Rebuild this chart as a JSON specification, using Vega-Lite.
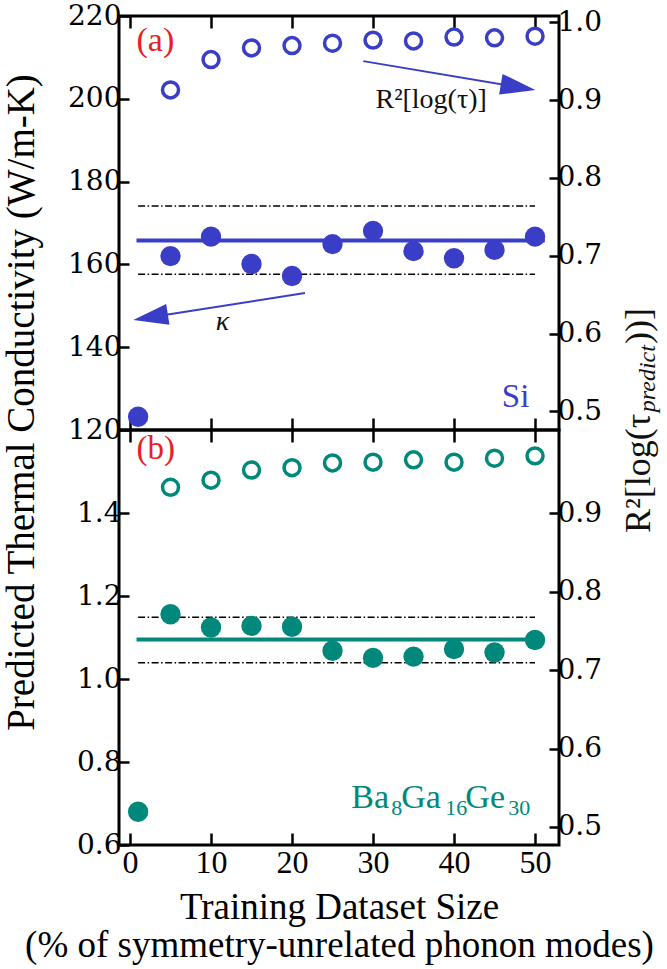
{
  "$schema": "https://vega.github.io/schema/vega-lite/v6.json",
  "padding": {"left": 0, "top": 0, "right": 0, "bottom": 0},
  "spacing": 0,
  "bounds": "flush",
  "datasets": {
    "si_k": [{"pct":1,"k":123.2},{"pct":5,"k":162.0},{"pct":10,"k":166.7},{"pct":15,"k":160.1},{"pct":20,"k":157.2},{"pct":25,"k":164.9},{"pct":30,"k":168.1},{"pct":35,"k":163.2},{"pct":40,"k":161.5},{"pct":45,"k":163.5},{"pct":50,"k":166.7}],
    "si_r": [{"pct":5,"r":0.913},{"pct":10,"r":0.952},{"pct":15,"r":0.967},{"pct":20,"r":0.970},{"pct":25,"r":0.973},{"pct":30,"r":0.977},{"pct":35,"r":0.976},{"pct":40,"r":0.981},{"pct":45,"r":0.980},{"pct":50,"r":0.982}],
    "si_mean": [{"pct":0.8,"k":165.8},{"pct":51.2,"k":165.8}],
    "si_band": [{"pct":1,"k":174.1,"band":"upper"},{"pct":50,"k":174.1,"band":"upper"},{"pct":1,"k":157.6,"band":"lower"},{"pct":50,"k":157.6,"band":"lower"}],
    "ba_k": [{"pct":1,"k":0.68},{"pct":5,"k":1.156},{"pct":10,"k":1.124},{"pct":15,"k":1.128},{"pct":20,"k":1.126},{"pct":25,"k":1.068},{"pct":30,"k":1.051},{"pct":35,"k":1.054},{"pct":40,"k":1.072},{"pct":45,"k":1.064},{"pct":50,"k":1.094}],
    "ba_r": [{"pct":5,"r":0.933},{"pct":10,"r":0.942},{"pct":15,"r":0.955},{"pct":20,"r":0.958},{"pct":25,"r":0.964},{"pct":30,"r":0.965},{"pct":35,"r":0.968},{"pct":40,"r":0.965},{"pct":45,"r":0.970},{"pct":50,"r":0.973}],
    "ba_mean": [{"pct":0.8,"k":1.095},{"pct":51.2,"k":1.095}],
    "ba_band": [{"pct":1,"k":1.149,"band":"upper"},{"pct":50,"k":1.149,"band":"upper"},{"pct":1,"k":1.039,"band":"lower"},{"pct":50,"k":1.039,"band":"lower"}],
    "one": [{}]
  },
  "vconcat": [
    {
      "width": 440,
      "height": 414,
      "layer": [
        {
          "layer": [
            {
              "data": {"name": "si_band"},
              "mark": {"type": "line", "color": "black", "strokeWidth": 1.5, "strokeDash": [7, 2.5, 1.5, 2.5]},
              "encoding": {
                "x": {"field": "pct", "type": "quantitative", "scale": {"domain": [-1.36, 52.96], "nice": false, "zero": false},
                      "axis": {"orient": "bottom", "labels": false, "title": null, "values": [0,10,20,30,40,50], "tickSize": -12}},
                "y": {"field": "k", "type": "quantitative", "scale": {"domain": [120, 220], "nice": false, "zero": false},
                      "axis": {"orient": "left", "values": [120,140,160,180,200,220], "format": "d", "tickSize": -10,
                               "title": "Predicted Thermal Conductivity (W/m-K)", "titleFontSize": 39, "titleX": -78, "titleY": 386, "titleBaseline": "bottom", "titleAngle": 270}},
                "detail": {"field": "band"}
              }
            },
            {
              "data": {"name": "si_mean"},
              "mark": {"type": "line", "color": "#3a3ec6", "strokeWidth": 4},
              "encoding": {
                "x": {"field": "pct", "type": "quantitative", "scale": {"domain": [-1.36, 52.96], "nice": false, "zero": false}},
                "y": {"field": "k", "type": "quantitative", "scale": {"domain": [120, 220], "nice": false, "zero": false}}
              }
            },
            {
              "data": {"name": "si_k"},
              "mark": {"type": "point", "filled": true, "size": 415, "color": "#3a3ec6", "opacity": 1},
              "encoding": {
                "x": {"field": "pct", "type": "quantitative", "scale": {"domain": [-1.36, 52.96], "nice": false, "zero": false}},
                "y": {"field": "k", "type": "quantitative", "scale": {"domain": [120, 220], "nice": false, "zero": false}}
              }
            },
            {
              "data": {"name": "one"},
              "mark": {"type": "rule", "color": "#3a3ec6", "strokeWidth": 2},
              "encoding": {
                "x": {"datum": 28.8, "type": "quantitative"}, "y": {"datum": 209.1, "type": "quantitative"},
                "x2": {"datum": 48.6}, "y2": {"datum": 202.6}
              }
            },
            {
              "data": {"name": "one"},
              "mark": {"type": "point", "shape": "M0,0L-2,-0.6L-2,0.6Z", "size": 1225, "filled": true, "color": "#3a3ec6", "opacity": 1, "angle": 9.6, "strokeWidth": 0},
              "encoding": {"x": {"datum": 50.04, "type": "quantitative"}, "y": {"datum": 202.1, "type": "quantitative"}}
            },
            {
              "data": {"name": "one"},
              "mark": {"type": "rule", "color": "#3a3ec6", "strokeWidth": 2},
              "encoding": {
                "x": {"datum": 21.6, "type": "quantitative"}, "y": {"datum": 153.1, "type": "quantitative"},
                "x2": {"datum": 1.9}, "y2": {"datum": 147.05}
              }
            },
            {
              "data": {"name": "one"},
              "mark": {"type": "point", "shape": "M0,0L-2,-0.6L-2,0.6Z", "size": 1225, "filled": true, "color": "#3a3ec6", "opacity": 1, "angle": 171.1, "strokeWidth": 0},
              "encoding": {"x": {"datum": 0.4, "type": "quantitative"}, "y": {"datum": 146.6, "type": "quantitative"}}
            },
            {
              "data": {"name": "one"},
              "mark": {"type": "text", "text": "R²[log(τ)]", "font": "Liberation Serif", "fontSize": 28, "align": "left", "baseline": "alphabetic", "color": "#111111"},
              "encoding": {"x": {"datum": 30.3, "type": "quantitative"}, "y": {"datum": 197.8, "type": "quantitative"}}
            },
            {
              "data": {"name": "one"},
              "mark": {"type": "text", "text": "κ", "font": "Liberation Serif", "fontStyle": "italic", "fontSize": 28, "align": "center", "baseline": "middle", "color": "#111111"},
              "encoding": {"x": {"datum": 11.4, "type": "quantitative"}, "y": {"datum": 146.1, "type": "quantitative"}}
            },
            {
              "data": {"name": "one"},
              "mark": {"type": "text", "text": "(a)", "font": "Liberation Serif", "fontSize": 34, "align": "left", "baseline": "alphabetic", "color": "#ec1c24"},
              "encoding": {"x": {"datum": 0.8, "type": "quantitative"}, "y": {"datum": 211.5, "type": "quantitative"}}
            },
            {
              "data": {"name": "one"},
              "mark": {"type": "text", "text": "Si", "font": "Liberation Serif", "fontSize": 33, "align": "right", "baseline": "alphabetic", "color": "#3a3ec6"},
              "encoding": {"x": {"datum": 49.3, "type": "quantitative"}, "y": {"datum": 125.6, "type": "quantitative"}}
            },
            {
              "data": {"name": "one"},
              "mark": {"type": "text", "text": "R²[log(τ", "font": "Liberation Serif", "fontSize": 36, "align": "left", "baseline": "alphabetic", "angle": 270, "color": "#111111"},
              "encoding": {"x": {"datum": 64.2, "type": "quantitative"}, "y": {"datum": 95.1, "type": "quantitative"}}
            },
            {
              "data": {"name": "one"},
              "mark": {"type": "text", "text": "predict", "font": "Liberation Serif", "fontStyle": "italic", "fontSize": 24, "align": "left", "baseline": "alphabetic", "angle": 270, "color": "#111111"},
              "encoding": {"x": {"datum": 64.85, "type": "quantitative"}, "y": {"datum": 124.3, "type": "quantitative"}}
            },
            {
              "data": {"name": "one"},
              "mark": {"type": "text", "text": "))]", "font": "Liberation Serif", "fontSize": 36, "align": "left", "baseline": "alphabetic", "angle": 270, "color": "#111111"},
              "encoding": {"x": {"datum": 64.2, "type": "quantitative"}, "y": {"datum": 140.8, "type": "quantitative"}}
            }
          ]
        },
        {
          "layer": [
            {
              "data": {"name": "si_r"},
              "mark": {"type": "point", "filled": false, "size": 255, "strokeWidth": 3.5, "color": "#3a3ec6", "opacity": 1},
              "encoding": {
                "x": {"field": "pct", "type": "quantitative", "scale": {"domain": [-1.36, 52.96], "nice": false, "zero": false},
                      "axis": {"orient": "top", "labels": false, "title": null, "values": [0,10,20,30,40,50], "tickSize": -12}},
                "y": {"field": "r", "type": "quantitative", "scale": {"domain": [0.476, 1.008], "nice": false, "zero": false},
                      "axis": {"orient": "right", "values": [0.5,0.6,0.7,0.8,0.9,1.0], "format": ".1f", "tickSize": -10, "title": null}}
              }
            }
          ]
        }
      ],
      "resolve": {"scale": {"y": "independent"}, "axis": {"x": "independent"}}
    },
    {
      "width": 440,
      "height": 415,
      "layer": [
        {
          "layer": [
            {
              "data": {"name": "ba_band"},
              "mark": {"type": "line", "color": "black", "strokeWidth": 1.5, "strokeDash": [7, 2.5, 1.5, 2.5]},
              "encoding": {
                "x": {"field": "pct", "type": "quantitative", "scale": {"domain": [-1.36, 52.96], "nice": false, "zero": false},
                      "axis": {"orient": "bottom", "values": [0,10,20,30,40,50], "format": "d", "tickSize": -12,
                               "labelFont": "Liberation Serif", "labelFontSize": 32, "labelPadding": 14,
                               "title": ["Training Dataset Size", "(% of symmetry-unrelated phonon modes)"], "titleFontSize": 37, "titleLineHeight": 38, "titlePadding": 11}},
                "y": {"field": "k", "type": "quantitative", "scale": {"domain": [0.6, 1.6], "nice": false, "zero": false},
                      "axis": {"orient": "left", "values": [0.6,0.8,1.0,1.2,1.4], "format": ".1f", "tickSize": -10, "title": null}},
                "detail": {"field": "band"}
              }
            },
            {
              "data": {"name": "ba_mean"},
              "mark": {"type": "line", "color": "#00897b", "strokeWidth": 4},
              "encoding": {
                "x": {"field": "pct", "type": "quantitative", "scale": {"domain": [-1.36, 52.96], "nice": false, "zero": false}},
                "y": {"field": "k", "type": "quantitative", "scale": {"domain": [0.6, 1.6], "nice": false, "zero": false}}
              }
            },
            {
              "data": {"name": "ba_k"},
              "mark": {"type": "point", "filled": true, "size": 415, "color": "#00897b", "opacity": 1},
              "encoding": {
                "x": {"field": "pct", "type": "quantitative", "scale": {"domain": [-1.36, 52.96], "nice": false, "zero": false}},
                "y": {"field": "k", "type": "quantitative", "scale": {"domain": [0.6, 1.6], "nice": false, "zero": false}}
              }
            },
            {
              "data": {"name": "one"},
              "mark": {"type": "text", "text": "(b)", "font": "Liberation Serif", "fontSize": 33, "align": "left", "baseline": "alphabetic", "color": "#ec1c24"},
              "encoding": {"x": {"datum": 0.8, "type": "quantitative"}, "y": {"datum": 1.53, "type": "quantitative"}}
            },
            {
              "data": {"name": "one"},
              "mark": {"type": "text", "text": "Ba", "font": "Liberation Serif", "fontSize": 34, "align": "left", "baseline": "alphabetic", "color": "#00897b"},
              "encoding": {"x": {"datum": 27.32, "type": "quantitative"}, "y": {"datum": 0.689, "type": "quantitative"}}
            },
            {
              "data": {"name": "one"},
              "mark": {"type": "text", "text": "8", "font": "Liberation Serif", "fontSize": 22, "align": "left", "baseline": "alphabetic", "color": "#00897b"},
              "encoding": {"x": {"datum": 32.25, "type": "quantitative"}, "y": {"datum": 0.672, "type": "quantitative"}}
            },
            {
              "data": {"name": "one"},
              "mark": {"type": "text", "text": "Ga", "font": "Liberation Serif", "fontSize": 34, "align": "left", "baseline": "alphabetic", "color": "#00897b"},
              "encoding": {"x": {"datum": 33.49, "type": "quantitative"}, "y": {"datum": 0.689, "type": "quantitative"}}
            },
            {
              "data": {"name": "one"},
              "mark": {"type": "text", "text": "16", "font": "Liberation Serif", "fontSize": 22, "align": "left", "baseline": "alphabetic", "color": "#00897b"},
              "encoding": {"x": {"datum": 38.93, "type": "quantitative"}, "y": {"datum": 0.672, "type": "quantitative"}}
            },
            {
              "data": {"name": "one"},
              "mark": {"type": "text", "text": "Ge", "font": "Liberation Serif", "fontSize": 34, "align": "left", "baseline": "alphabetic", "color": "#00897b"},
              "encoding": {"x": {"datum": 41.4, "type": "quantitative"}, "y": {"datum": 0.689, "type": "quantitative"}}
            },
            {
              "data": {"name": "one"},
              "mark": {"type": "text", "text": "30", "font": "Liberation Serif", "fontSize": 22, "align": "left", "baseline": "alphabetic", "color": "#00897b"},
              "encoding": {"x": {"datum": 46.7, "type": "quantitative"}, "y": {"datum": 0.672, "type": "quantitative"}}
            }
          ]
        },
        {
          "layer": [
            {
              "data": {"name": "ba_r"},
              "mark": {"type": "point", "filled": false, "size": 255, "strokeWidth": 3.5, "color": "#00897b", "opacity": 1},
              "encoding": {
                "x": {"field": "pct", "type": "quantitative", "scale": {"domain": [-1.36, 52.96], "nice": false, "zero": false},
                      "axis": {"orient": "top", "labels": false, "title": null, "values": [0,10,20,30,40,50], "tickSize": -12}},
                "y": {"field": "r", "type": "quantitative", "scale": {"domain": [0.477, 1.006], "nice": false, "zero": false},
                      "axis": {"orient": "right", "values": [0.5,0.6,0.7,0.8,0.9], "format": ".1f", "tickSize": -10, "title": null}}
              }
            }
          ]
        }
      ],
      "resolve": {"scale": {"y": "independent"}, "axis": {"x": "independent"}}
    }
  ],
  "config": {
    "view": {"stroke": "black", "strokeWidth": 3},
    "axis": {
      "domain": false, "grid": false,
      "labelFont": "DejaVu Serif", "labelFontSize": 28, "labelColor": "black",
      "labelFlush": false, "labelOverlap": false, "labelBound": false, "labelPadding": 8,
      "tickColor": "black", "tickWidth": 2.5,
      "titleFont": "Liberation Serif", "titleFontSize": 38, "titleColor": "black", "titleFontWeight": "normal"
    }
  }
}
